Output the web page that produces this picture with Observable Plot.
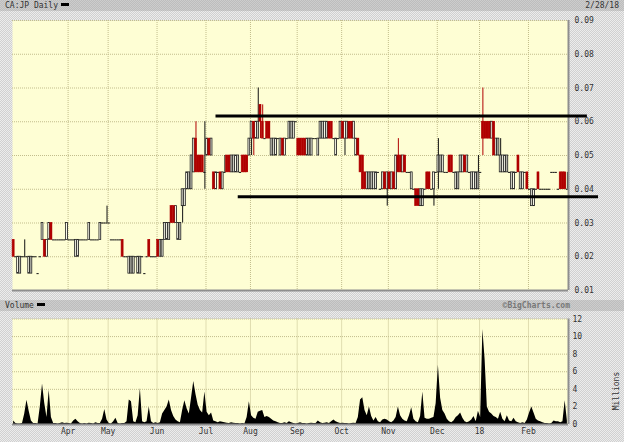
<!DOCTYPE html>
<html><head><meta charset="utf-8">
<script src="https://cdn.jsdelivr.net/npm/d3@7"></script>
<script src="https://cdn.jsdelivr.net/npm/@observablehq/plot@0.6"></script>
<style>
html,body{margin:0;padding:0;background:#fff;}
#page{position:relative;width:624px;height:442px;overflow:hidden;
 background-color:#dcdcdc;
 background-image:repeating-conic-gradient(#d0d0d0 0 25%, #ececec 0 50%);
 background-size:2px 2px;
 font-family:"DejaVu Sans Mono",monospace;font-size:8px;color:#333;}
.band{position:absolute;left:0;width:624px;height:11px;background-color:#c4c4c4;
 background-image:repeating-conic-gradient(#bdbdbd 0 25%, #cdcdcd 0 50%);background-size:2px 2px;}
.band span{position:absolute;top:1px;line-height:10px;white-space:nowrap;}
.dash{display:inline-block;width:8px;height:3px;background:#000;vertical-align:middle;margin-left:3px;margin-top:-2px;}
#price{position:absolute;left:0;top:13px;}
#vol{position:absolute;left:0;top:311px;}
</style></head>
<body>
<div id="page">
  <div class="band" style="top:0px"><span style="left:5px">CA:JP Daily<i class="dash"></i></span><span style="right:5px">2/28/18</span></div>
  <div id="price"></div>
  <div class="band" style="top:300px"><span style="left:5px">Volume<i class="dash"></i></span><span style="right:54px;color:#777;font-weight:bold">©BigCharts.com</span></div>
  <div id="vol"></div>
</div>
<script>
// daily prices (one value per trading day, 2/28/17 .. 2/28/18)
const opens = [
.025,.02,.015,.015,.02,.02,.02,.015,.015,.02,
.02,.015,.02,.025,.025,.02,.025,.03,.025,.025,
.025,.025,.025,.025,.025,.025,.025,.025,.02,.02,
.025,.025,.025,.025,.025,.025,.025,.025,.025,.025,
.03,.03,.03,.03,.025,.025,.025,.025,.025,.025,
.02,.02,.015,.015,.015,.02,.015,.015,.02,.015,
.02,.025,.02,.02,.02,.025,.02,.02,.025,.025,
.025,.035,.035,.03,.025,.025,.035,.035,.04,.04,
.04,.045,.055,.05,.05,.05,.045,.05,.055,.05,
.045,.04,.045,.045,.04,.045,.05,.05,.045,.045,
.045,.045,.045,.05,.05,.05,.05,.055,.06,.055,
.055,.065,.06,.055,.06,.06,.05,.05,.05,.055,
.05,.055,.05,.055,.055,.055,.055,.06,.055,.055,
.055,.055,.05,.05,.05,.055,.055,.05,.055,.055,
.055,.055,.06,.06,.055,.05,.055,.055,.06,.055,
.055,.06,.06,.055,.05,.055,.05,.05,.045,.04,
.04,.04,.04,.04,.045,.04,.04,.045,.04,.045,
.04,.045,.04,.05,.05,.045,.05,.045,.045,.04,
.04,.04,.04,.035,.035,.04,.045,.045,.04,.04,
.045,.045,.045,.045,.045,.045,.05,.05,.045,.04,
.04,.045,.045,.05,.045,.045,.04,.04,.04,.04,
.045,.06,.06,.06,.06,.055,.06,.05,.05,.045,
.045,.045,.045,.045,.04,.04,.045,.05,.04,.04,
.045,.045,.04,.035,.035,.04,.045,.04,.04,.04,
.04,.04,.045,.045,.045,.04,.045,.045,.045,.04];
const highs = [
.025,.02,.02,.02,.02,.025,.02,.02,.02,.02,
.02,.015,.02,.03,.025,.025,.03,.03,.025,.025,
.025,.025,.025,.025,.03,.025,.025,.025,.025,.025,
.025,.025,.025,.025,.03,.025,.025,.025,.025,.03,
.03,.03,.035,.03,.025,.025,.025,.025,.025,.025,
.02,.02,.02,.02,.02,.02,.02,.02,.02,.015,
.02,.025,.02,.02,.02,.025,.025,.025,.03,.03,
.03,.035,.035,.035,.03,.03,.04,.04,.045,.045,
.05,.055,.06,.05,.05,.05,.06,.055,.055,.055,
.045,.045,.045,.045,.045,.05,.05,.05,.05,.05,
.05,.05,.045,.05,.05,.05,.055,.06,.06,.06,
.07,.065,.065,.055,.06,.06,.055,.055,.055,.055,
.055,.055,.055,.055,.06,.06,.06,.06,.055,.055,
.055,.055,.055,.055,.055,.055,.055,.055,.06,.06,
.06,.06,.06,.06,.055,.055,.055,.06,.06,.06,
.06,.06,.06,.06,.055,.055,.05,.05,.045,.045,
.045,.045,.045,.045,.045,.04,.045,.045,.045,.045,
.045,.045,.05,.055,.05,.05,.05,.045,.045,.045,
.04,.04,.04,.04,.04,.04,.045,.045,.04,.045,
.045,.055,.05,.05,.045,.045,.05,.05,.045,.045,
.045,.05,.05,.05,.05,.045,.045,.045,.045,.05,
.045,.07,.06,.06,.06,.06,.06,.055,.055,.055,
.05,.05,.05,.045,.045,.045,.045,.05,.045,.045,
.045,.045,.04,.04,.04,.04,.045,.04,.04,.04,
.04,.04,.045,.045,.045,.04,.045,.045,.045,.045];
const lows = [
.02,.02,.015,.015,.02,.02,.02,.015,.015,.02,
.02,.015,.02,.025,.02,.02,.025,.025,.025,.025,
.025,.025,.025,.025,.025,.025,.025,.025,.02,.02,
.025,.025,.025,.025,.025,.025,.025,.025,.025,.025,
.03,.03,.03,.03,.025,.025,.025,.025,.025,.02,
.02,.02,.015,.015,.015,.02,.015,.015,.02,.015,
.02,.02,.02,.02,.02,.02,.02,.02,.025,.025,
.025,.03,.03,.03,.025,.025,.03,.035,.04,.04,
.04,.045,.045,.045,.045,.045,.04,.05,.05,.05,
.04,.04,.045,.04,.04,.045,.045,.045,.045,.045,
.045,.045,.045,.045,.045,.045,.05,.05,.05,.055,
.055,.055,.055,.055,.055,.055,.05,.05,.05,.055,
.05,.05,.05,.055,.055,.055,.055,.06,.05,.05,
.05,.05,.05,.05,.05,.055,.055,.05,.055,.055,
.055,.055,.055,.055,.055,.05,.055,.055,.055,.05,
.055,.055,.055,.055,.05,.05,.045,.04,.04,.04,
.04,.04,.04,.04,.045,.04,.04,.04,.035,.04,
.04,.04,.04,.045,.045,.045,.045,.045,.045,.04,
.04,.035,.035,.035,.035,.04,.04,.04,.04,.035,
.045,.04,.045,.045,.045,.045,.045,.045,.045,.04,
.04,.045,.045,.045,.045,.045,.04,.04,.04,.04,
.045,.05,.055,.055,.055,.055,.05,.05,.05,.045,
.045,.045,.045,.045,.04,.04,.045,.045,.04,.04,
.045,.04,.04,.035,.035,.04,.04,.04,.04,.04,
.04,.04,.045,.045,.045,.04,.04,.04,.04,.04];
const closes = [
.02,.02,.02,.02,.02,.02,.02,.02,.02,.02,
.02,.015,.02,.03,.02,.025,.03,.025,.025,.025,
.025,.025,.025,.025,.03,.025,.025,.025,.025,.025,
.025,.025,.025,.025,.03,.025,.025,.025,.025,.03,
.03,.03,.03,.03,.025,.025,.025,.025,.025,.02,
.02,.02,.02,.02,.02,.02,.02,.02,.02,.015,
.02,.02,.02,.02,.02,.02,.025,.025,.03,.03,
.03,.03,.03,.035,.03,.03,.04,.04,.045,.045,
.05,.055,.045,.045,.045,.045,.045,.055,.05,.055,
.04,.045,.045,.04,.045,.045,.045,.045,.05,.05,
.05,.05,.045,.045,.045,.045,.055,.06,.055,.06,
.06,.06,.055,.055,.055,.055,.055,.055,.055,.055,
.055,.05,.055,.055,.06,.06,.06,.06,.05,.05,
.05,.05,.055,.055,.055,.055,.055,.055,.06,.06,
.06,.06,.055,.055,.055,.055,.055,.06,.055,.06,
.06,.055,.055,.06,.055,.05,.045,.04,.04,.045,
.045,.045,.045,.045,.045,.04,.045,.04,.045,.04,
.045,.04,.05,.045,.045,.05,.045,.045,.045,.045,
.04,.035,.035,.04,.04,.04,.04,.04,.04,.045,
.045,.05,.05,.05,.045,.045,.045,.045,.045,.045,
.045,.05,.05,.045,.05,.045,.045,.045,.045,.045,
.045,.055,.055,.055,.055,.06,.05,.055,.055,.05,
.05,.05,.05,.045,.045,.045,.045,.045,.045,.045,
.045,.04,.04,.04,.04,.04,.04,.04,.04,.04,
.04,.04,.045,.045,.045,.04,.04,.04,.04,.04];
// daily volume, millions
const volumes = [
0.4,0.1,0.05,0.05,0.1,1.2,2.75,1.5,0.4,0.1,
0.1,0.05,2.0,4.6,2.4,0.8,3.9,0.8,0.1,0.1,
0.05,0.1,0.2,0.1,0.15,0.1,0.05,0.4,0.6,0.3,
0.1,0.05,0.1,0.05,0.15,0.1,0.05,0.2,0.1,0.1,
0.6,1.7,0.5,0.1,0.05,0.3,0.7,0.1,0.05,0.1,
0.1,0.3,2.8,2.6,0.3,0.2,1.0,4.1,0.3,0.2,
0.3,2.0,0.3,0.1,0.2,0.1,0.2,1.2,1.6,2.0,
2.8,1.6,0.9,0.5,0.3,0.2,1.6,2.7,1.8,1.2,
3.0,4.9,3.4,2.2,1.6,1.3,3.7,1.4,1.0,1.3,
0.4,0.3,0.2,0.3,0.25,0.2,0.15,0.1,0.2,0.15,
0.1,0.1,0.05,0.1,0.05,0.8,2.6,1.0,0.7,0.6,
1.4,1.5,1.6,0.8,0.9,0.8,0.6,0.4,0.3,0.2,
0.1,0.1,0.2,0.1,0.3,0.2,0.1,0.05,0.1,0.2,
0.1,0.1,0.05,0.1,0.15,0.1,0.1,0.4,0.2,0.1,
0.15,0.2,0.1,0.3,0.5,0.3,0.2,0.1,0.15,0.1,
0.1,0.05,0.1,0.15,0.1,0.8,2.8,3.05,1.6,1.0,
2.0,0.9,0.4,0.8,0.3,0.2,0.5,0.6,0.5,0.3,
0.2,0.4,0.8,2.0,1.0,0.6,0.4,0.3,1.0,1.9,
0.6,0.3,0.2,0.9,3.7,0.7,0.6,0.6,0.7,0.8,
2.4,6.75,3.0,1.6,1.2,0.6,0.3,0.2,0.4,0.8,
1.0,1.3,0.7,0.3,0.2,0.3,0.5,0.9,0.3,1.5,
0.8,10.8,7.4,2.0,1.4,1.2,0.9,0.8,0.6,1.4,
0.6,0.3,1.0,0.4,0.3,0.7,0.3,0.2,0.1,0.2,
0.1,0.5,1.3,2.0,1.3,0.6,0.4,0.3,0.2,0.1,
0.1,0.05,0.1,0.4,0.3,0.3,0.2,0.3,2.7,0.4];
// first trading day index of each month, and its label
const monthStart = [25,43,65,87,107,128,148,169,191,210,232];
const monthLabels = ["Apr","May","Jun","Jul","Aug","Sep","Oct","Nov","Dec","18","Feb"];
const priceTicks = [0.01,0.02,0.03,0.04,0.05,0.06,0.07,0.08,0.09];
const volTicks = [0,2,4,6,8,10,12];
// hand-drawn trend lines (day index from/to, price level)
const trendFrom = [91,101];
const trendTo = [258,263];
const trendLevel = [0.0617,0.0378];

const N = opens.length;
const days = d3.range(N).map(i => ({i, o: opens[i], h: highs[i], l: lows[i], c: closes[i], v: volumes[i]}));
const trends = trendLevel.map((y, k) => ({y, x1: trendFrom[k], x2: trendTo[k]}));
const grid = "#c2bd8c", plotBg = "#fefed4", red = "#b00000", border = "#8e8e8e";
const xDomain = [-0.5, N - 0.5];
const monthGrid = monthStart.map(d => d - 0.5);
const style = {fontFamily: "DejaVu Sans Mono, monospace", fontSize: "8px", background: "none", overflow: "visible", color: "#333"};

const down = days.filter(d => d.c < d.o);
const up = days.filter(d => d.c > d.o);
const flat = days.filter(d => d.c === d.o);

const price = Plot.plot({
  width: 624, height: 283,
  marginLeft: 12, marginRight: 56, marginTop: 7, marginBottom: 6,
  style,
  x: {domain: xDomain, axis: null},
  y: {domain: [0.01, 0.09], axis: null},
  marks: [
    Plot.frame({fill: plotBg, stroke: null}),
    Plot.ruleY(priceTicks.slice(1), {stroke: grid, strokeDasharray: "1,1"}),
    Plot.ruleX(monthGrid, {stroke: grid, strokeDasharray: "1,1"}),
    Plot.ruleX(days.filter(d => d.h > d.l && !(d.c < d.o)), {x: "i", y1: "l", y2: "h", stroke: "#111", strokeWidth: 1}),
    Plot.ruleX(down, {x: "i", y1: "l", y2: "h", stroke: red, strokeWidth: 1}),
    Plot.rect(up, {x1: d => d.i - 0.4, x2: d => d.i + 0.4, y1: "o", y2: "c", fill: "#fffff0", stroke: "#222", strokeWidth: 0.8}),
    Plot.rect(down, {x1: d => d.i - 0.45, x2: d => d.i + 0.45, y1: "o", y2: "c", fill: red, stroke: red, strokeWidth: 0.6}),
    Plot.ruleY(flat, {y: "c", x1: d => d.i - 0.5, x2: d => d.i + 0.5, stroke: "#111", strokeWidth: 1}),
    Plot.ruleX([N - 0.5], {stroke: border, strokeWidth: 2}),
    Plot.ruleY([0.01], {stroke: border, strokeWidth: 2}),
    Plot.ruleY(trends, {y: "y", x1: "x1", x2: "x2", stroke: "#000", strokeWidth: 3}),
    Plot.text(priceTicks, {y: d => d, frameAnchor: "right", textAnchor: "start", dx: 6, text: d => d.toFixed(2), fill: "#333"})
  ]
});
document.getElementById("price").appendChild(price);

const vol = Plot.plot({
  width: 624, height: 131,
  marginLeft: 12, marginRight: 56, marginTop: 7.5, marginBottom: 18,
  style,
  x: {domain: xDomain, axis: null},
  y: {domain: [0, 12], axis: null},
  marks: [
    Plot.frame({fill: plotBg, stroke: null}),
    Plot.ruleY(volTicks.slice(1), {stroke: grid, strokeDasharray: "1,1"}),
    Plot.ruleX(monthGrid, {stroke: grid, strokeDasharray: "1,1"}),
    Plot.areaY(days, {x: "i", y: "v", fill: "#000", curve: "linear"}),
    Plot.ruleX([N - 0.5], {stroke: border, strokeWidth: 2}),
    Plot.ruleY([0], {stroke: border, strokeWidth: 2}),
    Plot.text(volTicks, {y: d => d, frameAnchor: "right", textAnchor: "start", dx: 4, text: d => String(d), fill: "#333"}),
    Plot.text(monthGrid, {x: d => d, frameAnchor: "bottom", dy: 9, text: (d, i) => monthLabels[i], fill: "#333"}),
    Plot.text(["Millions"], {frameAnchor: "right", dx: 48, rotate: -90, text: d => d, fill: "#333"})
  ]
});
document.getElementById("vol").appendChild(vol);
</script>
</body></html>
